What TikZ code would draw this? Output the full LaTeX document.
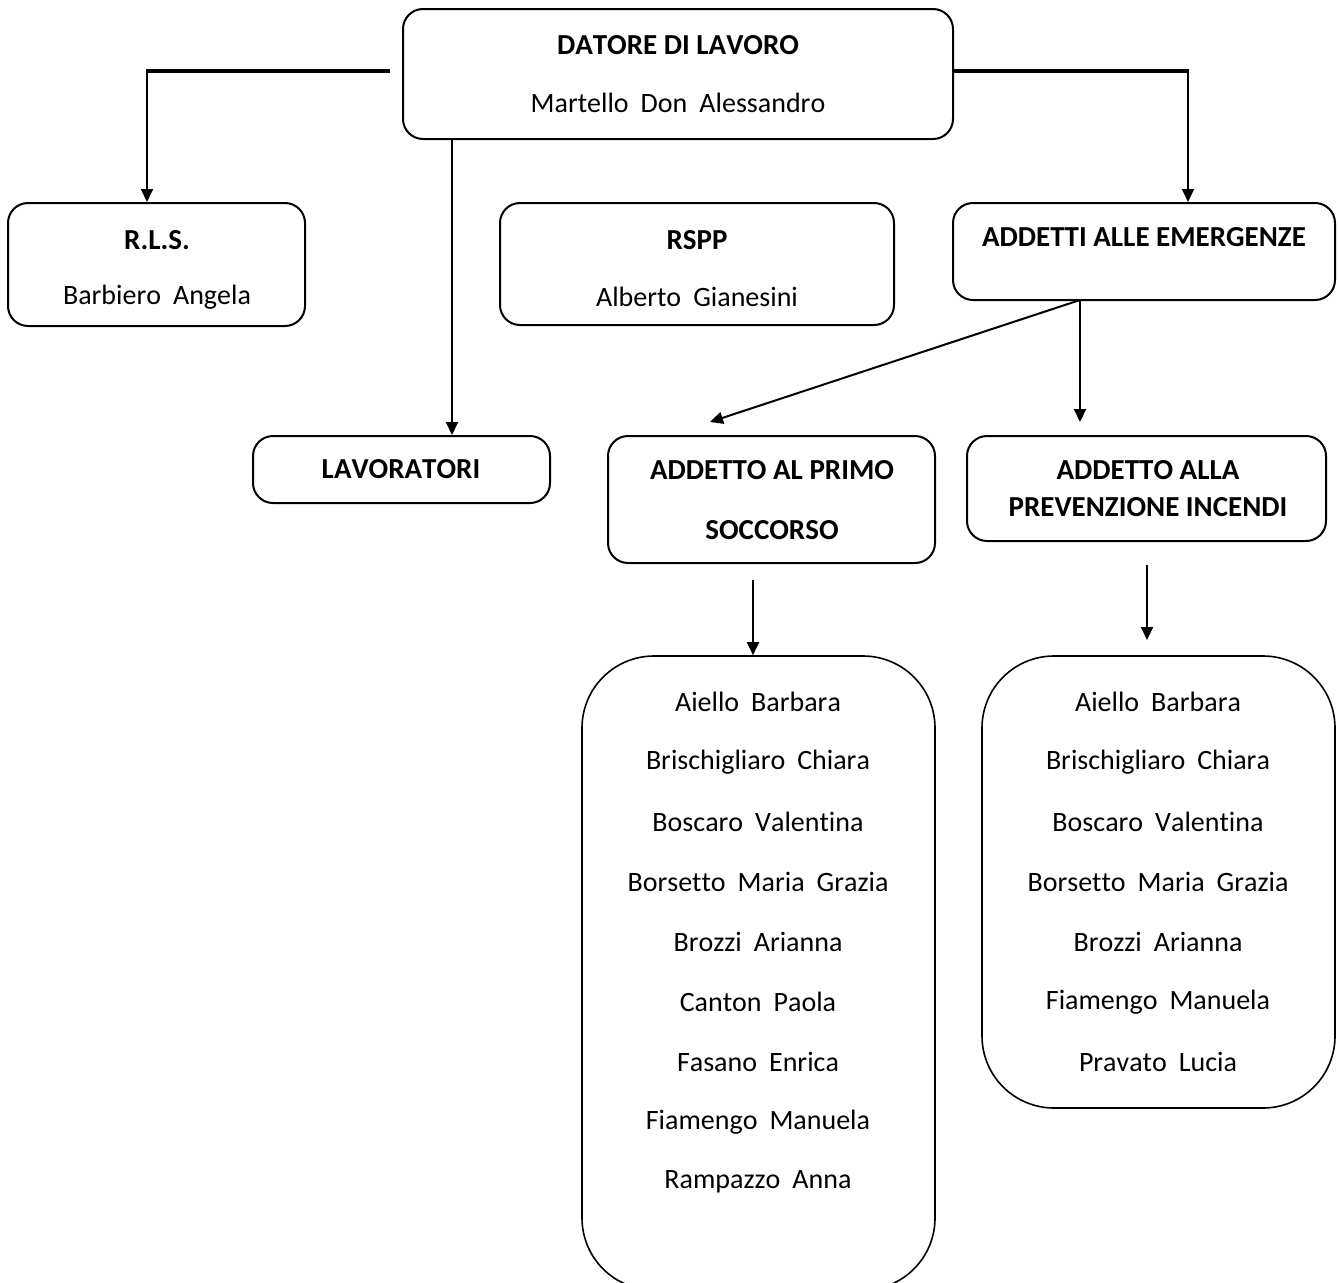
\documentclass[tikz,border=0pt]{standalone}
\usepackage{fontspec}
\setmainfont{Carlito}[Kerning=Off, Ligatures=NoCommon, WordSpace=1.9,
  BoldFeatures={WordSpace=1}]
\usetikzlibrary{arrows.meta,positioning}

\tikzset{
  box/.style={draw, line width=2pt, rounded corners=20pt, inner sep=0pt},
  listbox/.style={draw, line width=1.6pt, rounded corners=72pt, inner sep=0pt},
  title/.style={font=\fontsize{29}{34}\selectfont\bfseries},
  link/.style={line width=2pt},
  boldlink/.style={line width=3.6pt},
  arrow/.style={line width=2pt, -{Triangle[length=13pt,width=12pt]}},
}

\begin{document}
\begin{tikzpicture}[x=1pt, y=-1pt, font=\fontsize{28}{33}\selectfont]
\useasboundingbox (0,0) rectangle (1338,1282);

% boxes
\node[box, minimum width=550pt, minimum height=130pt] (datore) at (678,74) {};
\node[box, minimum width=297pt, minimum height=123pt] (rls) at (156.5,264.5) {};
\node[box, minimum width=394pt, minimum height=122pt] (rspp) at (697,264) {};
\node[box, minimum width=382pt, minimum height=97pt] (emerg) at (1144,251.5) {};
\node[box, minimum width=297pt, minimum height=67pt] (lav) at (401.5,469.5) {};
\node[box, minimum width=327pt, minimum height=127pt] (primo) at (771.5,499.5) {};
\node[box, minimum width=359pt, minimum height=105pt] (incendi) at (1146.5,488.5) {};
\node[listbox, minimum width=353pt, minimum height=634pt] (primolist) at (758.5,973) {};
\node[listbox, minimum width=353pt, minimum height=452pt] (incendilist) at (1158.5,882) {};

% texts
\node[title] (datoreT) at (678,45) {DATORE DI LAVORO};
\node (datoreN) at (678,103) {Martello Don Alessandro};
\node[title] (rlsT) at (157,240) {R.L.S.};
\node (rlsN) at (157,297) {Barbiero Angela};
\node[title] (rsppT) at (697,240) {RSPP};
\node (rsppN) at (697,297) {Alberto Gianesini};
\node[title] (emergT) at (1144,237) {ADDETTI ALLE EMERGENZE};
\node[title] (lavT) at (401,469) {LAVORATORI};
\node[title] (primoT) at (772,470) {ADDETTO AL PRIMO};
\node[title] (primoT2) at (772,530) {SOCCORSO};
\node[title] (incendiT) at (1148,470) {ADDETTO ALLA};
\node[title] (incendiT2) at (1148,507) {PREVENZIONE INCENDI};

\foreach \name [count=\i from 0] in {Aiello Barbara, Brischigliaro Chiara,
    Boscaro Valentina, Borsetto Maria Grazia, Brozzi Arianna, Canton Paola,
    Fasano Enrica, Fiamengo Manuela, Rampazzo Anna}
  \node (primo-\i) at (758,702+60*\i) {\name};

\foreach \name [count=\i from 0] in {Aiello Barbara, Brischigliaro Chiara,
    Boscaro Valentina, Borsetto Maria Grazia, Brozzi Arianna,
    Fiamengo Manuela, Pravato Lucia}
  \node (incendi-\i) at (1158,702+60*\i) {\name};

% connectors
\coordinate (dl) at (390,71);
\coordinate (dlc) at (147,71);
\coordinate (dr) at (datore.east |- dl);
\coordinate (drc) at (1188,71);
\draw[boldlink] (dl) -- ([xshift=-1pt]dlc);
\draw[arrow] (dlc) -- (dlc |- rls.north);
\draw[boldlink] (dr) -- ([xshift=1pt]drc);
\draw[arrow] (drc) -- (drc |- emerg.north);

\coordinate (dlav) at (452,139);
\draw[arrow] (dlav) -- (dlav |- lav.north);

\coordinate (es) at (1080,300);
\coordinate (pend) at (710,422);
\draw[arrow] (es) -- (pend);
\draw[arrow] (es) -- (es |- pend);

\coordinate (ps) at (753,580);
\draw[arrow] (ps) -- (ps |- primolist.north);
\coordinate (is) at (1147,565);
\draw[arrow] (is) -- (1147,640);
\end{tikzpicture}
\end{document}
